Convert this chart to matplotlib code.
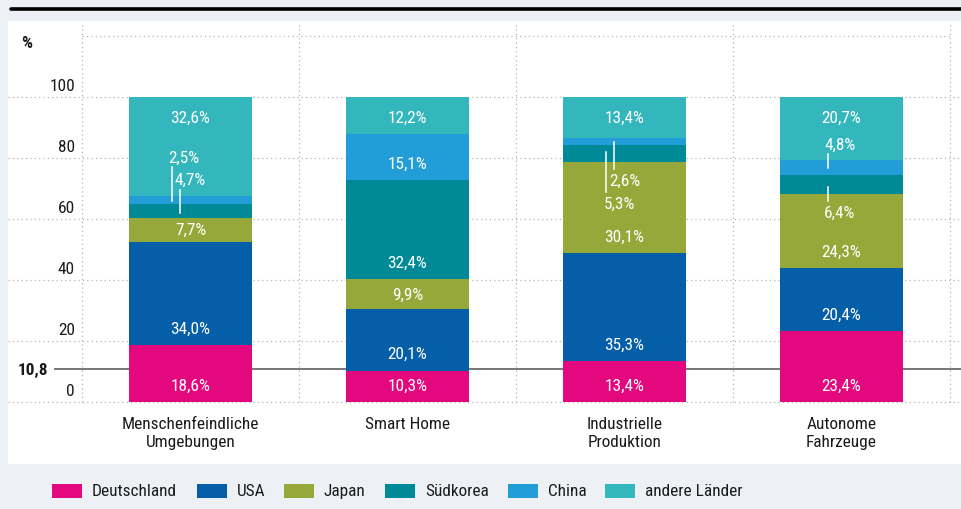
import matplotlib
matplotlib.use('Agg')
import matplotlib.pyplot as plt
import matplotlib.transforms as mtransforms
from matplotlib import font_manager as fm
from matplotlib.lines import Line2D
from matplotlib.patches import Rectangle
import numpy as np

# data
categories = ['Menschenfeindliche\nUmgebungen', 'Smart Home', 'Industrielle\nProduktion', 'Autonome\nFahrzeuge']
countries = ['Deutschland', 'USA', 'Japan', 'Südkorea', 'China', 'andere Länder']
deutschland = [18.6, 10.3, 13.4, 23.4]
usa = [34.0, 20.1, 35.3, 20.4]
japan = [7.7, 9.9, 30.1, 24.3]
suedkorea = [4.7, 32.4, 5.3, 6.4]
china = [2.5, 15.1, 2.6, 4.8]
andere = [32.6, 12.2, 13.4, 20.7]
series = [deutschland, usa, japan, suedkorea, china, andere]
colors = ['#e4087f', '#055ea8', '#97a83a', '#008a98', '#229dd8', '#33b6bc']
yticks = [0, 20, 40, 60, 80, 100]
avg_line = 10.8

# small segments labelled outside with a leader line:
# (bar, series, label dx, label y, line dx, line y0, line y1)
callouts = [
    (0, 4, -0.03, 80.3, -0.087, 65.9, 77.0),
    (0, 3, 0.00, 73.1, -0.048, 62.0, 69.5),
    (2, 4, 0.00, 72.8, -0.048, 76.4, 85.2),
    (2, 3, -0.025, 65.2, -0.085, 68.9, 82.0),
    (3, 4, -0.007, 84.6, -0.062, 76.7, 81.3),
    (3, 3, -0.007, 62.3, -0.062, 65.9, 70.5),
]

# pick a narrow font if there is one
names = {f.name for f in fm.fontManager.ttflist}
font_kw = {}
fs = 10.5
for cand, size in [('Roboto Condensed', 12.4), ('Liberation Sans Narrow', 12.5), ('Open Sans Condensed', 12)]:
    if cand in names:
        font_kw = {'family': cand}
        fs = size
        break
else:
    if any(f.name == 'DejaVu Sans' and f.stretch == 'condensed' for f in fm.fontManager.ttflist):
        font_kw = {'family': 'DejaVu Sans', 'stretch': 'condensed'}
        fs = 10.8
if font_kw:
    plt.rcParams['font.family'] = font_kw['family']
    if 'stretch' in font_kw:
        plt.rcParams['font.stretch'] = font_kw['stretch']

W, H = 962, 510
fig = plt.figure(figsize=(W / 100, H / 100), dpi=100, facecolor='#edf1f5')

def fx(px):
    return px / W

def fy(py):
    return 1 - py / H

# white panel and top rule
fig.add_artist(Rectangle((fx(8), fy(465)), fx(W - 8), (465 - 22) / H,
                         transform=fig.transFigure, facecolor='white', edgecolor='none', zorder=0))
fig.add_artist(Line2D([fx(11), 1.0], [fy(10), fy(10)], transform=fig.transFigure,
                      color='black', lw=2.6, solid_capstyle='round'))

ax = fig.add_axes([fx(82), fy(403), fx(868), 366 / H])
ax.set_xlim(-0.5, 3.5)
ax.set_ylim(0, 120)
ax.set_facecolor('none')
for s in ax.spines.values():
    s.set_visible(False)

trans_fy = mtransforms.blended_transform_factory(fig.transFigure, ax.transData)
grid_kw = dict(color='#b4b4b4', lw=0.9, ls=(0, (1, 2.5)), zorder=0.5)

# horizontal grid, reaching into the label area
for v in yticks:
    ax.plot([fx(8), 1.0], [v, v], transform=trans_fy, clip_on=False, **grid_kw)
ax.plot([-0.5, 3.5], [120, 120], clip_on=False, **grid_kw)
# vertical grid
for xv in np.arange(-0.5, 4.0, 1.0):
    ax.plot([xv, xv], [0, 124.6], clip_on=False, **grid_kw)

# average line
ax.plot([fx(55), 1.0], [avg_line, avg_line], transform=trans_fy, clip_on=False,
        color='#6b6b6b', lw=1.3, zorder=1)
fig.text(fx(48), fy(370), '10,8', ha='right', va='center', fontsize=fs, color='#1a1a1a', fontweight='bold')

# y labels above the grid lines
for v in yticks:
    ax.text(fx(75), v + 1.4, str(v), transform=trans_fy, ha='right', va='bottom',
            fontsize=fs, color='#1a1a1a')
fig.text(fx(21), fy(43), '%', ha='left', va='center', fontsize=fs, color='#1a1a1a', fontweight='bold')

# bars
x = np.arange(len(categories))
bw = 0.567
bottom = np.zeros(len(categories))
for vals, col in zip(series, colors):
    ax.bar(x, vals, bw, bottom=bottom, color=col, linewidth=0, zorder=2)
    bottom += np.array(vals)

# value labels
called = {(c[0], c[1]) for c in callouts}
lab_kw = dict(color='white', ha='center', va='center', fontsize=fs, zorder=4)
for i in range(len(categories)):
    base = 0.0
    for j, vals in enumerate(series):
        v = vals[i]
        txt = f'{v:.1f}%'.replace('.', ',')
        if (i, j) not in called:
            if j == len(series) - 1:
                y = min(base + v, 100) - 6.6
            elif v >= 10:
                y = base + 5.5
            else:
                y = base + v / 2
            ax.text(i, y, txt, **lab_kw)
        base += v

for i, j, ldx, ly, lnx, y0, y1 in callouts:
    txt = f'{series[j][i]:.1f}%'.replace('.', ',')
    ax.text(i + ldx, ly, txt, **lab_kw)
    ax.plot([i + lnx, i + lnx], [y0, y1], color='white', lw=1.1, zorder=3)

# category labels
ax.set_xticks(x)
ax.set_xticklabels(categories, fontsize=fs, color='#1a1a1a', linespacing=1.25)
ax.tick_params(axis='x', length=0, pad=10)
ax.set_yticks([])

# legend
leg_x = [52, 197, 284, 385, 508, 605]
for px, name, col in zip(leg_x, countries, colors):
    fig.add_artist(Rectangle((fx(px), fy(499)), fx(30), 14 / H, transform=fig.transFigure,
                             facecolor=col, edgecolor='none'))
    fig.text(fx(px + 40), fy(492), name, ha='left', va='center', fontsize=fs, color='#1a1a1a')

fig.savefig('out.png', dpi=100, facecolor=fig.get_facecolor())
